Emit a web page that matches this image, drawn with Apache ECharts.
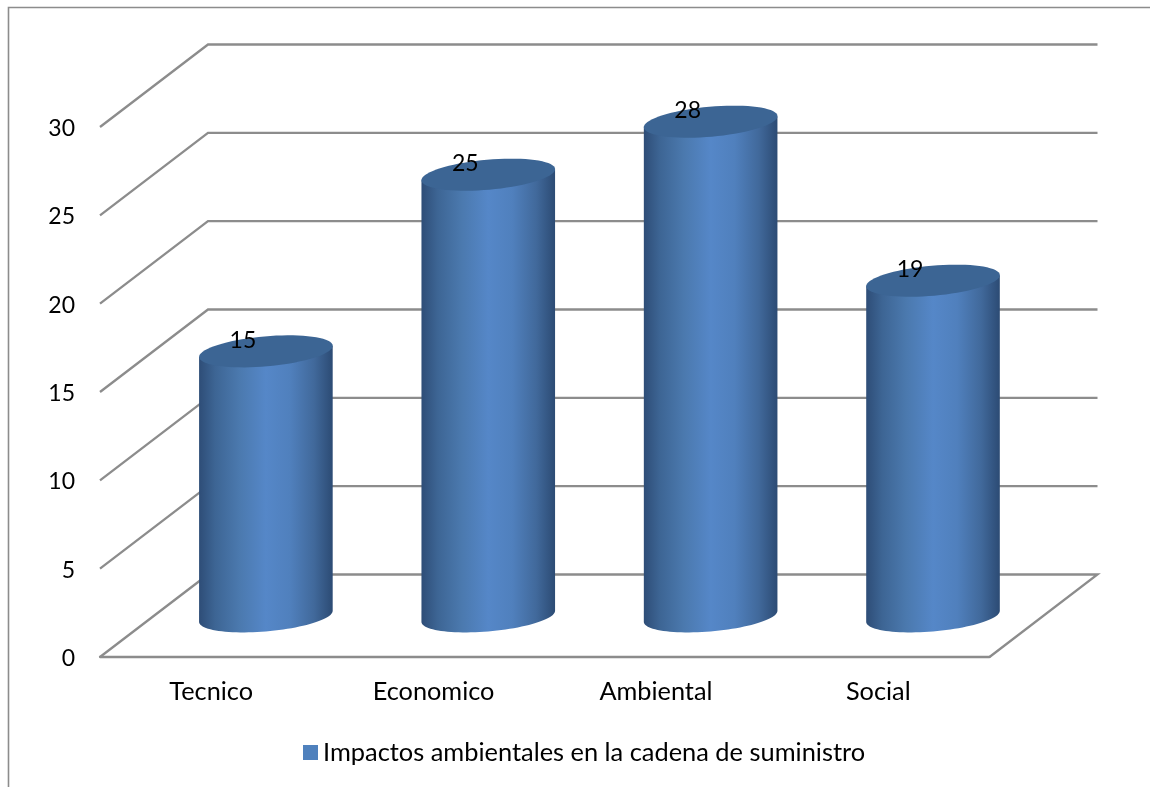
<!DOCTYPE html>
<html>
<head>
<meta charset="utf-8">
<style>html,body{margin:0;padding:0;background:#fff}#chart{width:1150px;height:787px}</style>
<script src="https://cdn.jsdelivr.net/npm/echarts@6/dist/echarts.min.js"></script>
</head>
<body>
<div id="chart"></div>
<script>
// Chart content
const seriesName = 'Impactos ambientales en la cadena de suministro';
const categories = ['Tecnico', 'Economico', 'Ambiental', 'Social'];
const values = [15, 25, 28, 19];
const yTicks = [0, 5, 10, 15, 20, 25, 30];

// Oblique projection of the chart box
const DEPTH_X = 108, DEPTH_Y = -82.5;
const LINE = '#8c8c8c';
const FONT = 'Lato, Carlito, sans-serif';
const TEXT_SIZE = 25.3, DIGIT_SIZE = 23;
const TILT = -5 * Math.PI / 180;
const BAR_RATIO = 0.603, MINOR_AXIS = 15;

function ellipsePoint(cx, cy, a, b, t) {
  const c = Math.cos(TILT), s = Math.sin(TILT);
  return [
    cx + a * Math.cos(t) * c - b * Math.sin(t) * s,
    cy + a * Math.cos(t) * s + b * Math.sin(t) * c
  ];
}
function ellipseArc(cx, cy, a, b, from, to, steps) {
  const pts = [];
  for (let i = 0; i <= steps; i++) pts.push(ellipsePoint(cx, cy, a, b, from + (to - from) * i / steps));
  return pts;
}

// Side-wall and back-wall gridlines, plus the floor outline
function renderWalls(params, api) {
  const sys = params.coordSys;
  const y = api.coord([0, api.value(1)])[1];
  const x0 = sys.x, x1 = sys.x + sys.width;
  const style = { stroke: LINE, lineWidth: 2.3, fill: 'none', lineJoin: 'miter' };
  const pts = [[x0, y], [x0 + DEPTH_X, y + DEPTH_Y], [x1 + DEPTH_X, y + DEPTH_Y]];
  if (api.value(1) === 0) pts.push([x1, y]);
  return { type: 'polyline', shape: { points: pts }, style };
}

// One cylinder per category, standing mid-way through the box depth
function renderCylinder(params, api) {
  const base = api.coord([api.value(0), 0]);
  const top = api.coord([api.value(0), api.value(1)]);
  const cx = base[0] + DEPTH_X / 2 + 0.7;
  const yBase = base[1] + DEPTH_Y / 2 + 0.6;
  const yTop = top[1] + DEPTH_Y / 2 + 0.6;
  const a = api.size([1, 0])[0] * BAR_RATIO / 2;
  const b = MINOR_AXIS;
  const t0 = Math.atan2(-b * Math.sin(TILT), a * Math.cos(TILT));
  const body = ellipseArc(cx, yBase, a, b, t0, t0 + Math.PI, 48);
  body.push(ellipsePoint(cx, yTop, a, b, t0 + Math.PI));
  body.push(ellipsePoint(cx, yTop, a, b, t0));
  const bodyFill = new echarts.graphic.LinearGradient(0, 0, 1, 0, [
    { offset: 0, color: '#2e4d77' },
    { offset: 0.12, color: '#3d6594' },
    { offset: 0.3, color: '#4b79ae' },
    { offset: 0.5, color: '#5587c8' },
    { offset: 0.68, color: '#5080bd' },
    { offset: 0.86, color: '#41699b' },
    { offset: 1, color: '#2c4b74' }
  ]);
  return {
    type: 'group',
    children: [
      { type: 'polygon', shape: { points: body }, style: { fill: bodyFill } },
      { type: 'polygon', shape: { points: ellipseArc(cx, yTop, a, b, 0, Math.PI * 2, 72) }, style: { fill: '#3c6594' } },
      {
        type: 'text', z2: 10,
        style: {
          x: cx - 23, y: yTop - 11, text: String(api.value(1)),
          align: 'center', verticalAlign: 'middle', fill: '#000', font: DIGIT_SIZE + 'px ' + FONT
        }
      }
    ]
  };
}

const chart = echarts.init(document.getElementById('chart'), null, { renderer: 'canvas' });
chart.setOption({
  animation: false,
  backgroundColor: '#fff',
  grid: { left: 100, right: 160.5, top: 127, bottom: 130 },
  legend: {
    data: [{ name: seriesName, icon: 'rect', itemStyle: { color: '#4f81bd' } }],
    left: 303, top: 740,
    itemWidth: 15, itemHeight: 15, itemGap: 9, padding: 0,
    selectedMode: false,
    textStyle: { fontFamily: FONT, fontSize: 25.4, color: '#000', padding: 0 }
  },
  xAxis: {
    type: 'category', data: categories,
    axisTick: { show: false },
    axisLine: { show: true, lineStyle: { color: LINE, width: 2.3 } },
    axisLabel: { margin: 22, color: '#000', fontFamily: FONT, fontSize: TEXT_SIZE }
  },
  yAxis: {
    type: 'value', min: 0, max: 30, interval: 5,
    axisLine: { show: false }, axisTick: { show: false }, splitLine: { show: false },
    axisLabel: {
      margin: 25, color: '#000',
      formatter: '{n|{value}}',
      rich: { n: { fontFamily: FONT, fontSize: DIGIT_SIZE, color: '#000', padding: [3, 0, 0, 0] } }
    }
  },
  graphic: [
    { type: 'polyline', silent: true, shape: { points: [[8.5, 787], [8.5, 7.5], [1150, 7.5]] }, style: { stroke: '#8c8c8c', lineWidth: 1.6, fill: 'none' } }
  ],
  series: [
    { type: 'custom', name: 'gridlines', renderItem: renderWalls, data: yTicks.map(v => [0, v]), encode: { x: 0, y: 1 }, z: 1 },
    { type: 'custom', name: seriesName, renderItem: renderCylinder, data: values.map((v, i) => [i, v]), encode: { x: 0, y: 1 }, z: 2, itemStyle: { color: '#4f81bd' } }
  ]
});
</script>
</body>
</html>
